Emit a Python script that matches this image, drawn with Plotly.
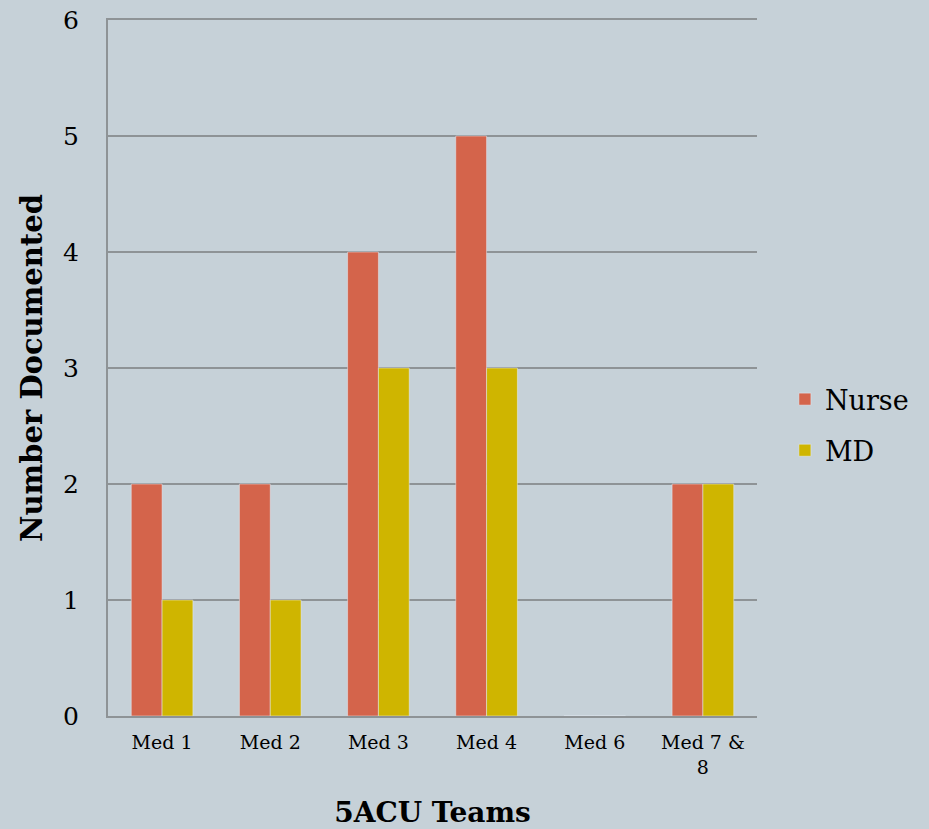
import plotly.graph_objects as go

teams = ["Med 1", "Med 2", "Med 3", "Med 4", "Med 6", "Med 7 &<br>8"]
nurse = [2, 2, 4, 5, 0, 2]
md = [1, 1, 3, 3, 0, 2]

bg = "#C6D1D8"
grid = "#8E9396"
font_family = "Georgia, 'DejaVu Serif', serif"

fig = go.Figure()
fig.add_trace(go.Bar(x=teams, y=nurse, name="Nurse", marker_color="#D4644B", legendgroup="n"))
fig.add_trace(go.Bar(x=teams, y=md, name="MD", marker_color="#CFB500", legendgroup="m"))

fig.update_layout(
    width=929,
    height=829,
    paper_bgcolor=bg,
    plot_bgcolor=bg,
    barmode="group",
    bargap=0.43,
    bargroupgap=0,
    margin=dict(l=108, r=172, t=20, b=113, autoexpand=False),
    font=dict(family=font_family, color="black"),
    legend=dict(
        x=1.043, y=0.418, xanchor="left", yanchor="middle",
        font=dict(size=27), bgcolor="rgba(0,0,0,0)",
        traceorder="grouped", tracegroupgap=13,
    ),
    showlegend=True,
)

fig.update_yaxes(
    range=[0, 6],
    dtick=1,
    showgrid=True,
    gridcolor=grid,
    gridwidth=2,
    showline=True,
    linecolor=grid,
    linewidth=2,
    zeroline=False,
    automargin=False,
    tickfont=dict(size=25),
    ticklabelstandoff=22,
    title=dict(text="<b>Number Documented</b>", font=dict(size=29), standoff=12),
)
fig.update_xaxes(
    showline=True,
    mirror=True,
    linecolor=grid,
    linewidth=2,
    automargin=False,
    tickfont=dict(size=19),
    ticklabelstandoff=8,
    title=dict(text="<b>5ACU Teams</b>", font=dict(size=28), standoff=26),
)

fig.write_html(
    "out.html",
    config={"displayModeBar": False},
    post_script="document.body.style.margin='0';",
)
